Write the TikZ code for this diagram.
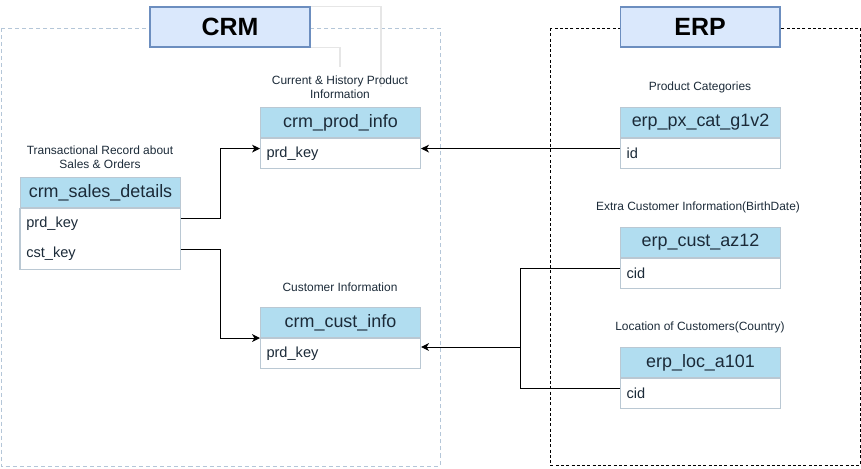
\documentclass[tikz,border=0pt]{standalone}
\usepackage{fontspec}
\setmainfont{Liberation Sans}
\usetikzlibrary{arrows.meta}

\definecolor{kopf}{HTML}{B1DDF0}
\definecolor{rand}{HTML}{BAC8D3}
\definecolor{titel}{HTML}{DAE8FC}
\definecolor{titelrand}{HTML}{6C8EBF}
\definecolor{schrift}{HTML}{1B2A38}
\definecolor{crmrand}{HTML}{B4C6D8}
\definecolor{blass}{HTML}{E6E6E6}

\tikzset{
  titlebox/.style={draw=titelrand, fill=titel, line width=0.6pt, minimum width=3.2cm,
    minimum height=0.8cm, inner sep=0pt, font=\fontsize{14.2}{16}\selectfont\bfseries},
  tabhead/.style={draw=rand, fill=kopf, line width=0.6pt, minimum width=3.2cm,
    minimum height=0.6cm, inner sep=0pt, anchor=north west, text=schrift,
    font=\fontsize{10.2}{12}\selectfont},
  tabcell/.style={text width=2.96cm, inner xsep=0.12cm, inner ysep=0pt, minimum height=0.6cm,
    anchor=north west, align=left, text=schrift, font=\fontsize{8.3}{10}\selectfont},
  tabrow/.style={tabcell, draw=rand, fill=white, line width=0.6pt},
  caption/.style={text=schrift, align=center, inner sep=0pt,
    font=\fontsize{6.8}{7.9}\selectfont},
  link/.style={draw=black, line width=0.55pt, -{Stealth[length=4.5pt,width=4.4pt,inset=1.3pt]}},
  plain/.style={draw=black, line width=0.55pt},
}

\begin{document}
\begin{tikzpicture}[x=0.02cm, y=-0.02cm]
\useasboundingbox (0,0) rectangle (861,468);

% Rahmen
\draw[crmrand, line width=0.5pt, dash pattern=on 2.3pt off 1.7pt] (1,28) rectangle (440,466);
\draw[black, line width=0.45pt, dash pattern=on 1.7pt off 1.3pt] (550,28) rectangle (860,465);

\node[titlebox] (crm) at (230,27) {CRM};
\node[titlebox] (erp) at (700,27) {ERP};
\draw[blass, line width=0.6pt] (crm.north east) -| (381,87);
\draw[blass, line width=0.6pt] (crm.south east) -| (340,67);

% CRM Tabellen
\node[caption] (prodcap) at (340,87) {Current \& History Product\\Information};
\node[tabhead] (prodinfo) at (260,107) {crm\_prod\_info};
\node[tabrow] (prodkey) at (prodinfo.south west) {prd\_key};

\node[caption] (salescap) at (100,157) {Transactional Record about\\Sales \& Orders};
\node[tabhead] (sales) at (20,177) {crm\_sales\_details};
\node[tabcell] (salesprd) at (sales.south west) {prd\_key};
\node[tabcell] (salescst) at (salesprd.south west) {cst\_key};
\draw[rand, line width=0.6pt] (salesprd.north west) rectangle (salescst.south east);

\node[caption] (custcap) at (340,287) {Customer Information};
\node[tabhead] (custinfo) at (260,307) {crm\_cust\_info};
\node[tabrow] (custkey) at (custinfo.south west) {prd\_key};

% ERP Tabellen
\node[caption] (pxcap) at (700,87) {Product Categories};
\node[tabhead] (pxcat) at (620,107) {erp\_px\_cat\_g1v2};
\node[tabrow] (pxid) at (pxcat.south west) {id};

\node[caption] (azcap) at (698,207) {Extra Customer Information(BirthDate)};
\node[tabhead] (custaz) at (620,227) {erp\_cust\_az12};
\node[tabrow] (azcid) at (custaz.south west) {cid};

\node[caption] (loccap) at (700,327) {Location of Customers(Country)};
\node[tabhead] (loc) at (620,347) {erp\_loc\_a101};
\node[tabrow] (loccid) at (loc.south west) {cid};

% Verbindungen
\draw[link] ([yshift=0.1cm]salesprd.east) -- ++(40,0) |- ([yshift=0.1cm]prodkey.west);
\draw[link] ([yshift=0.1cm]salescst.east) -- ++(40,0) |- (custkey.north west);
\draw[link] ([yshift=0.1cm]pxid.west) -- ([yshift=0.1cm]prodkey.east);

\draw[plain] ([yshift=0.1cm]azcid.west) -- ++(-100,0) coordinate (knick) |- ([yshift=0.1cm]loccid.west);
\coordinate (abzweig) at (520,347);
\draw[link] (abzweig) -- (abzweig -| custkey.east);

\end{tikzpicture}
\end{document}
